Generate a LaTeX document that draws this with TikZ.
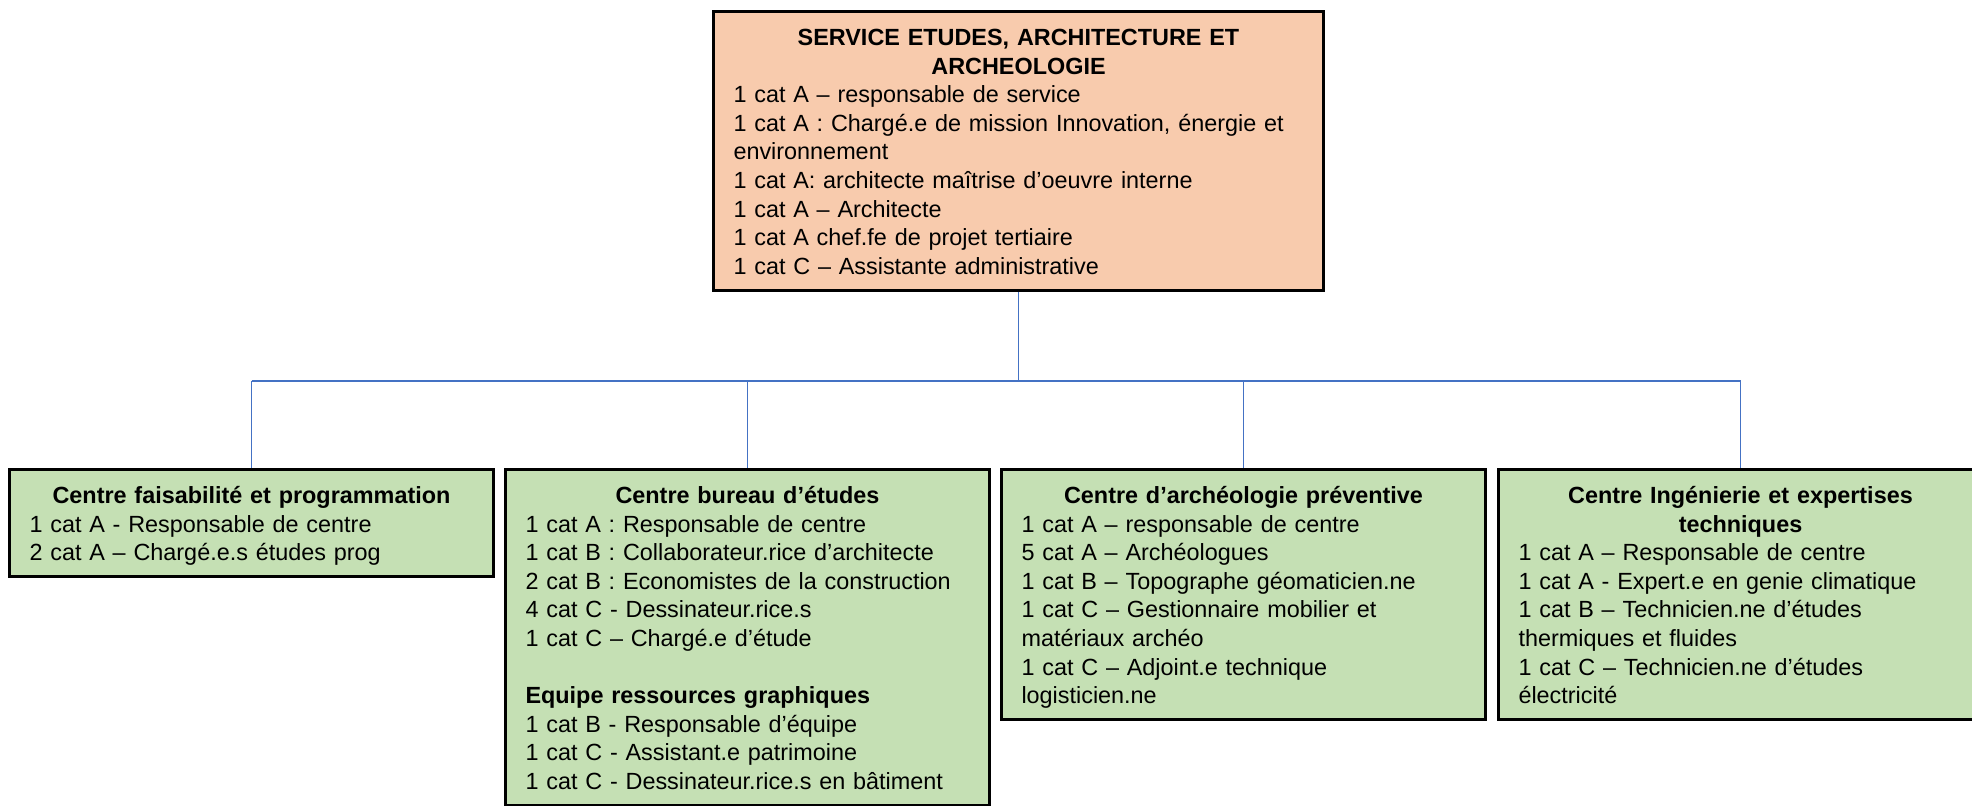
\documentclass[tikz,border=0pt]{standalone}
\usepackage{fontspec}
\setmainfont{Liberation Sans}
\setlength\parindent{0pt}
\setlength\parskip{0pt}
\definecolor{peach}{HTML}{F8CBAD}
\definecolor{sage}{HTML}{C5E0B4}
\definecolor{linkblue}{HTML}{4472C4}
\newcommand\TopS{\rule{0pt}{17pt}}
\newcommand\BotS{\rule[-8pt]{0pt}{8pt}}
\begin{document}
\begin{tikzpicture}[x=0.5pt,y=-0.5pt,
  boxbase/.style={draw=black, line width=1.5pt, anchor=north west, inner ysep=0pt,
    align=left, font=\fontsize{11.7}{14.3}\selectfont},
  topbox/.style={boxbase, fill=peach, inner xsep=10pt, text width=285pt},
  centrebox/.style={boxbase, fill=sage, inner xsep=10pt, text width=222pt},
  conn/.style={draw=linkblue, line width=0.8pt}]
\useasboundingbox (0,0) rectangle (1972,806);
\clip (0,0) rectangle (1972,806);
\coordinate (bus) at (0,381);

\node[topbox] (top) at (712,10) {{\centering\bfseries\TopS SERVICE ETUDES, ARCHITECTURE ET\\ARCHEOLOGIE\par}
1 cat A – responsable de service\\
\mbox{1 cat A : Chargé.e de mission Innovation, énergie et}\\
environnement\\
1 cat A: architecte maîtrise d’oeuvre interne\\
1 cat A – Architecte\\
1 cat A chef.fe de projet tertiaire\\
1 cat C – Assistante administrative\BotS};

\node[centrebox] (b1) at (8,468) {{\centering\bfseries\TopS Centre faisabilité et programmation\par}
1 cat A - Responsable de centre\\
2 cat A – Chargé.e.s études prog\BotS};

\node[centrebox] (b2) at (504,468) {{\centering\bfseries\TopS Centre bureau d’études\par}
1 cat A : Responsable de centre\\
1 cat B : Collaborateur.rice d’architecte\\
2 cat B : Economistes de la construction\\
4 cat C - Dessinateur.rice.s\\
1 cat C – Chargé.e d’étude\\[14.3pt]
\textbf{Equipe ressources graphiques}\\
1 cat B - Responsable d’équipe\\
1 cat C - Assistant.e patrimoine\\
1 cat C - Dessinateur.rice.s en bâtiment\BotS};

\node[centrebox] (b3) at (1000,468) {{\centering\bfseries\TopS Centre d’archéologie préventive\par}
1 cat A – responsable de centre\\
5 cat A – Archéologues\\
1 cat B – Topographe géomaticien.ne\\
1 cat C – Gestionnaire mobilier et\\
matériaux archéo\\
1 cat C – Adjoint.e technique\\
logisticien.ne\BotS};

\node[centrebox] (b4) at (1497,468) {{\centering\bfseries\TopS Centre Ingénierie et expertises\\techniques\par}
1 cat A – Responsable de centre\\
1 cat A - Expert.e en genie climatique\\
1 cat B – Technicien.ne d’études\\
thermiques et fluides\\
1 cat C – Technicien.ne d’études\\
électricité\BotS};

\draw[conn] (top.south) -- (top.south |- bus);
\draw[conn] (b1.north |- bus) -- (b4.north |- bus);
\foreach \b in {b1,b2,b3,b4} \draw[conn] (\b.north |- bus) -- (\b.north);
\end{tikzpicture}
\end{document}
